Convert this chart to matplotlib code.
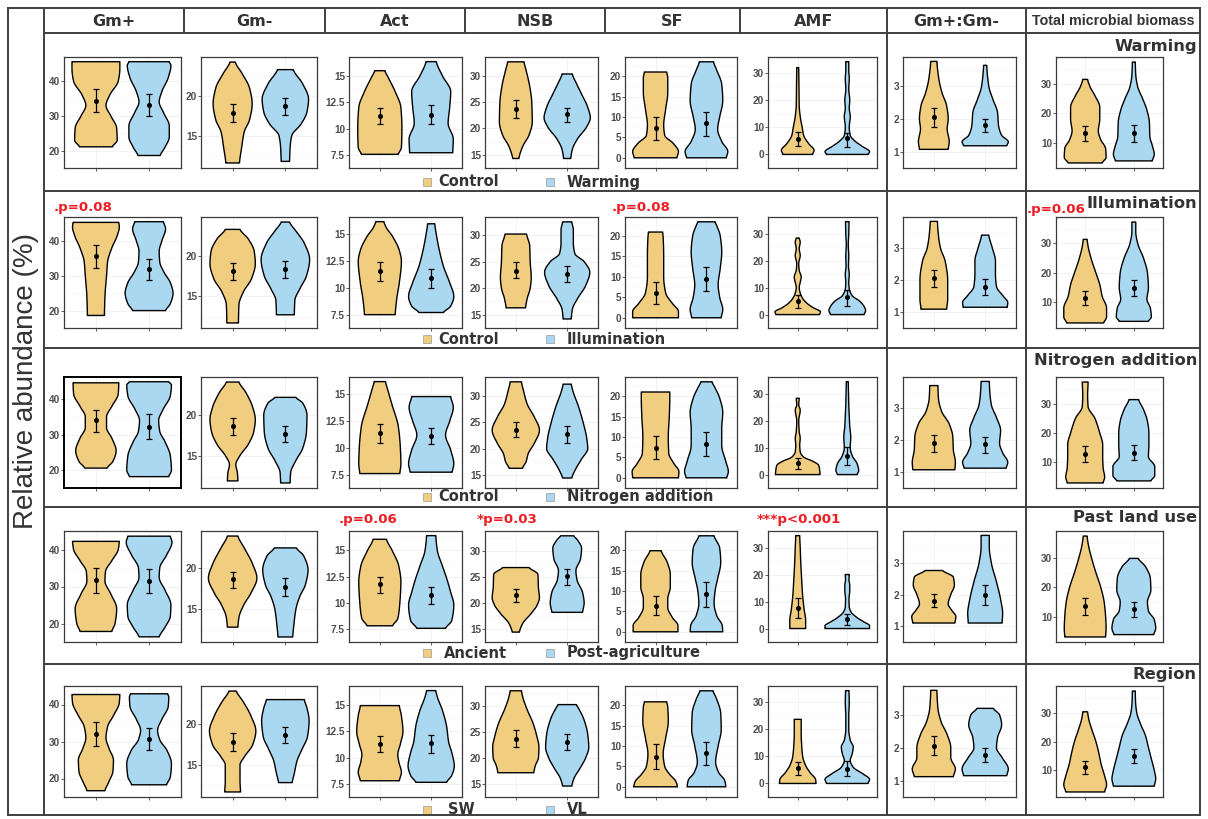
import numpy as np
import matplotlib
matplotlib.use("Agg")
import matplotlib.pyplot as plt
from matplotlib.lines import Line2D
from matplotlib.patches import Rectangle

plt.rcParams['font.family'] = ['DejaVu Sans']

W, H = 1208, 819

# ---------------- data ----------------
variables = ["Gm+", "Gm-", "Act", "NSB", "SF", "AMF", "Gm+:Gm-", "Total microbial biomass"]
factors = ["Warming", "Illumination", "Nitrogen addition", "Past land use", "Region"]
legend_labels = [("Control", "Warming"), ("Control", "Illumination"),
                 ("Control", "Nitrogen addition"), ("Ancient", "Post-agriculture"),
                 ("SW", "VL")]
tick_values = [[20, 30, 40], [15, 20], [7.5, 10, 12.5, 15], [15, 20, 25, 30],
               [0, 5, 10, 15, 20], [0, 10, 20, 30], [1, 2, 3], [10, 20, 30]]
tick_labels = [["20", "30", "40"], ["15", "20"], ["7.5", "10", "12.5", "15"],
               ["15", "20", "25", "30"], ["0", "5", "10", "15", "20"],
               ["0", "10", "20", "30"], ["1", "2", "3"], ["10", "20", "30"]]
# (row, column, text)
p_values = [(1, 0, ".p=0.08"), (1, 4, ".p=0.08"), (1, 7, ".p=0.06"),
            (3, 2, ".p=0.06"), (3, 3, "*p=0.03"), (3, 5, "***p<0.001")]

# violin outlines: (value, half width) pairs from data min to data max; (first group, second group)
warming_shape = [
    ([(21.1,.31),(23,.40),(26.5,.39),(30,.28),(33,.19),(36,.26),(40,.42),(43.5,.45),(45.6,.45)],
     [(18.6,.21),(21,.30),(24,.38),(27,.38),(31,.27),(34,.19),(37,.24),(41,.36),(44.5,.41),(45.6,.38)]),
    ([(11.6,.13),(13.5,.17),(15.5,.22),(17,.32),(19,.37),(21,.32),(22.8,.18),(24.25,.05)],
     [(11.8,.08),(13.5,.09),(15,.12),(16.5,.3),(18,.41),(19.6,.44),(21.5,.33),(23.3,.15)]),
    ([(7.55,.36),(8.2,.42),(10,.43),(12,.41),(13.5,.3),(14.8,.17),(15.5,.1)],
     [(7.7,.42),(9,.43),(10.5,.33),(12,.36),(13.5,.38),(15,.22),(16.36,.1)]),
    ([(14.3,.06),(16.5,.13),(18.8,.26),(21.2,.32),(25,.31),(28,.27),(31,.2),(32.6,.16)],
     [(14.3,.07),(16,.1),(18,.2),(20.3,.38),(22,.45),(24,.4),(26.5,.28),(28.5,.18),(30.3,.1)]),
    ([(0,.42),(1.5,.45),(3.5,.35),(5.5,.18),(8,.16),(12,.2),(16,.24),(19.5,.24),(21,.22)],
     [(0,.39),(1.5,.42),(4,.3),(7,.22),(10,.26),(14,.32),(18,.3),(21.5,.2),(23.5,.14)]),
    ([(0,.3),(1.5,.33),(4,.22),(7,.12),(10,.09),(14,.05),(18,.03),(25,.025),(32,.02)],
     [(0,.42),(1,.45),(3,.3),(5,.15),(7,.06),(10,.04),(14,.06),(17,.04),(20,.05),(24,.03),(28,.04),(31,.03),(34.2,.03)]),
    ([(1.07,.28),(1.3,.3),(1.7,.26),(2.0,.28),(2.4,.25),(2.8,.16),(3.2,.1),(3.76,.06)],
     [(1.18,.42),(1.3,.45),(1.5,.32),(1.8,.26),(2.2,.24),(2.6,.15),(3.0,.07),(3.64,.03)]),
    ([(3.1,.35),(5,.43),(8,.42),(11,.32),(14,.27),(18,.3),(22,.3),(26,.2),(29,.1),(31.5,.05)],
     [(3.8,.38),(6,.42),(9,.38),(12,.33),(17,.32),(21,.27),(25,.18),(29,.08),(33,.04),(37.4,.03)]),
]
warming_mean = [(34.4,33.1),(17.9,18.7),(11.17,11.3),(23.6,22.7),(7.2,8.5),(5.7,5.9),(2.05,1.8),(13.2,13.2)]
warming_lo = [(31.25,30),(16.7,17.6),(10.4,10.45),(21.9,21.3),(4.3,5.4),(3,2.6),(1.75,1.6),(10.5,10.3)]
warming_hi = [(37.6,36.25),(18.95,19.7),(11.95,12.2),(25.3,23.9),(9.9,11.3),(8.3,8),(2.33,2.0),(15.7,16)]

illumination_shape = [
    ([(18.6,.16),(24,.17),(30,.2),(34,.22),(38,.3),(41.5,.4),(44,.44),(45.3,.43)],
     [(20,.31),(22,.4),(25,.45),(28,.4),(31,.28),(34,.2),(37,.19),(40,.24),(43.5,.31),(45.5,.27)]),
    ([(11.75,.11),(14,.12),(15.5,.2),(17.2,.36),(19,.43),(20.5,.41),(22,.3),(23.2,.14)],
     [(12.75,.17),(14.5,.18),(16,.28),(17.5,.4),(19.5,.46),(21.5,.36),(23,.2),(24.1,.08)]),
    ([(7.5,.3),(9,.33),(10.5,.38),(12.5,.42),(13.5,.38),(14.8,.25),(15.7,.12),(16.2,.08)],
     [(7.7,.24),(8.3,.38),(9.2,.44),(10.5,.36),(12,.24),(13.5,.16),(15,.1),(16,.07)]),
    ([(16.3,.19),(18,.22),(20,.28),(22,.3),(25,.28),(28,.27),(30.2,.21)],
     [(14.2,.08),(16,.1),(18,.2),(20.5,.36),(23,.44),(25,.33),(26.5,.15),(28.5,.12),(31,.12),(32.5,.09)]),
    ([(0,.45),(1.5,.45),(3.5,.33),(6,.2),(10,.16),(15,.16),(19.5,.15),(20.9,.14)],
     [(0,.29),(2,.32),(5,.26),(8,.23),(12,.27),(16,.3),(20,.27),(22.5,.2),(23.4,.17)]),
    ([(0,.44),(1,.46),(2.5,.32),(4,.2),(6,.1),(8,.05),(10,.03),(12,.05),(14,.07),(16.5,.03),(19,.02),(22,.05),(24.5,.03),(27,.05),(28.5,.03)],
     [(0,.34),(1.5,.37),(3,.34),(5,.25),(7,.1),(9.5,.04),(12,.03),(15,.04),(18,.025),(22,.03),(26,.02),(30,.03),(34.6,.035)]),
    ([(1.09,.25),(1.4,.27),(2.0,.27),(2.6,.22),(3.0,.13),(3.4,.09),(3.84,.07)],
     [(1.15,.43),(1.3,.44),(1.5,.35),(1.8,.22),(2.2,.2),(2.6,.2),(3.0,.14),(3.41,.07)]),
    ([(2.95,.38),(5,.44),(8,.44),(12,.35),(16,.3),(20,.22),(25,.12),(29,.06),(31.4,.04)],
     [(3.5,.3),(5,.36),(8,.34),(11,.27),(15,.3),(20,.28),(25,.2),(30,.08),(34,.04),(37.3,.04)]),
]
illumination_mean = [(35.6,31.8),(18.05,18.4),(11.6,10.9),(23.3,22.7),(6.1,9.5),(4.9,6.4),(2.06,1.79),(11.3,14.8)]
illumination_lo = [(32.3,28.8),(16.95,17.3),(10.65,10.0),(22.0,21.2),(3.3,6.6),(2.3,3.2),(1.77,1.54),(9.0,12.0)]
illumination_hi = [(38.9,34.7),(19.1,19.3),(12.4,11.75),(25.0,24.2),(8.8,12.4),(7.2,9.3),(2.33,2.02),(13.9,17.5)]

nitrogen_shape = [
    ([(20.6,.21),(22.5,.32),(25.5,.38),(29,.3),(32,.2),(35,.2),(38,.3),(41.5,.42),(44.6,.43)],
     [(18.2,.37),(20,.42),(24,.4),(28,.3),(31,.2),(34,.18),(37,.26),(41,.4),(44,.42),(44.9,.37)]),
    ([(12.0,.1),(13.0,.09),(14.0,.06),(15,.13),(16.5,.3),(18,.4),(19.5,.43),(21,.38),(22.8,.25),(24.07,.12)],
     [(11.75,.09),(13,.1),(14.5,.2),(16,.33),(18,.4),(20,.41),(21.5,.33),(22.2,.2)]),
    ([(7.6,.39),(8.5,.41),(10,.4),(12,.36),(14,.24),(15.5,.15),(16.2,.11)],
     [(7.73,.41),(8.5,.44),(9.8,.38),(11.2,.28),(12.5,.36),(13.8,.43),(14.8,.38)]),
    ([(16.25,.13),(17.5,.2),(19,.24),(21,.36),(23.5,.46),(26,.36),(28.5,.22),(31,.15),(32.7,.11)],
     [(14.4,.09),(16,.16),(18,.28),(20,.4),(22,.38),(25,.31),(28,.22),(31,.11),(32.25,.08)]),
    ([(0,.45),(1.5,.46),(3.5,.36),(6,.26),(10,.25),(15,.27),(19.5,.28),(21,.28)],
     [(0,.4),(1.5,.43),(4,.38),(8,.3),(12,.3),(16,.32),(19.5,.26),(22,.17),(23.5,.11)]),
    ([(0,.45),(2,.44),(3.5,.42),(5,.3),(6.5,.12),(8.5,.05),(11,.04),(13.5,.05),(16,.03),(20,.02),(24,.05),(26,.02),(28.4,.03)],
     [(0,.2),(1.5,.23),(4,.2),(7,.1),(10,.06),(14,.07),(18,.05),(22,.04),(26,.03),(30,.025),(34.6,.02)]),
    ([(1.07,.41),(1.3,.42),(1.7,.38),(2.1,.37),(2.5,.3),(2.9,.15),(3.3,.09),(3.70,.08)],
     [(1.12,.41),(1.3,.44),(1.6,.34),(1.9,.28),(2.3,.3),(2.7,.22),(3.1,.12),(3.5,.09),(3.83,.08)]),
    ([(2.95,.37),(5,.4),(8,.37),(12,.36),(16,.36),(20,.3),(25,.2),(29,.06),(33,.05),(37.4,.06)],
     [(3.65,.35),(5.5,.43),(8.5,.43),(12,.3),(16,.31),(20,.31),(24,.28),(28,.2),(31.4,.1)]),
]
nitrogen_mean = [(34,32.3),(18.65,17.75),(11.4,11.1),(23.6,22.7),(7.4,8.2),(4.2,7.1),(1.9,1.88),(12.75,13.3)]
nitrogen_lo = [(30.8,28.8),(17.55,16.75),(10.5,10.35),(22.2,21),(4.5,5.3),(1.95,3.7),(1.63,1.6),(10.1,10.9)]
nitrogen_hi = [(36.9,35.8),(19.7,18.7),(12.2,11.9),(25.1,24.3),(10.2,11.1),(6.3,10.2),(2.15,2.1),(15.5,16)]

landuse_shape = [
    ([(17.85,.3),(20,.36),(24,.39),(28,.28),(31.5,.17),(34,.18),(37,.3),(40,.42),(42.2,.44)],
     [(16.4,.19),(19,.3),(22,.4),(25,.41),(29,.3),(32.5,.19),(35,.2),(38.5,.33),(42,.43),(43.6,.4)]),
    ([(12.8,.1),(14,.12),(15.5,.21),(17,.35),(18.8,.46),(20.5,.38),(22.5,.22),(23.95,.1)],
     [(11.6,.14),(13,.16),(15,.2),(16.5,.27),(18,.38),(19.8,.43),(21.5,.35),(22.5,.21)]),
    ([(7.8,.25),(8.5,.35),(10,.39),(12,.41),(13.5,.37),(15,.24),(16.07,.13)],
     [(7.56,.28),(8.3,.4),(9.8,.44),(11,.38),(12.2,.31),(13.5,.22),(15,.12),(16.42,.09)]),
    ([(14.4,.07),(16,.13),(18,.3),(19.7,.42),(21,.46),(23,.44),(25.5,.43),(26.8,.26)],
     [(18.2,.3),(20,.33),(22,.3),(24.5,.19),(26.2,.17),(28.5,.26),(30.5,.28),(32.1,.2),(32.9,.13)]),
    ([(0,.44),(1.5,.44),(3.5,.33),(6,.24),(8,.24),(11,.29),(14,.29),(17,.23),(19.85,.11)],
     [(0,.32),(1.5,.31),(4,.2),(7,.15),(10,.17),(13,.22),(17,.28),(20.5,.26),(23.5,.15)]),
    ([(0,.16),(3,.16),(7,.13),(12,.1),(18,.08),(25,.06),(30,.05),(34.4,.04)],
     [(0,.45),(1,.45),(2.5,.33),(4,.2),(6,.08),(8,.04),(11,.035),(14,.05),(16,.05),(18,.035),(20,.04)]),
    ([(1.1,.41),(1.3,.43),(1.5,.35),(1.7,.28),(2.0,.33),(2.3,.4),(2.55,.38),(2.76,.17)],
     [(1.1,.33),(1.4,.34),(1.85,.3),(2.4,.22),(3.0,.12),(3.5,.08),(3.87,.08)]),
    ([(3.1,.42),(6,.43),(10,.42),(15,.39),(20,.32),(25,.22),(30,.13),(34,.07),(37.4,.04)],
     [(3.9,.41),(6,.45),(9,.42),(12,.3),(15,.28),(19,.35),(23,.34),(27,.24),(29.8,.09)]),
]
landuse_mean = [(31.7,31.6),(18.65,17.7),(11.77,10.7),(21.47,25.1),(6.43,9.15),(7.6,3.45),(1.8,2.0),(13.7,12.6)]
landuse_lo = [(28.3,28.2),(17.6,16.6),(10.97,9.85),(20.25,23.5),(4.1,6.05),(4.0,1.3),(1.6,1.67),(10.6,10.0)]
landuse_hi = [(34.9,34.6),(19.6,18.8),(12.5,11.55),(22.7,26.6),(8.76,12.25),(11.3,5.2),(2.02,2.3),(16.5,15.1)]

region_shape = [
    ([(16.7,.17),(19,.24),(22,.32),(25,.33),(28,.25),(31,.19),(34,.22),(37,.33),(40.5,.44),(42.7,.45)],
     [(18.3,.33),(20.5,.4),(24,.42),(27.5,.34),(30.5,.2),(33,.16),(36,.24),(39.5,.36),(42,.37),(42.9,.35)]),
    ([(11.7,.15),(13,.14),(15,.14),(16,.22),(17.5,.38),(19.2,.44),(21,.35),(22.8,.2),(24.1,.07)],
     [(12.85,.13),(14,.17),(15.5,.22),(17,.32),(18.5,.42),(20.5,.45),(22,.41),(23.05,.36)]),
    ([(7.8,.38),(8.6,.42),(9.6,.37),(10.3,.35),(11.3,.4),(12.5,.45),(14,.42),(14.97,.38)],
     [(7.65,.3),(8.3,.4),(9.2,.45),(10.5,.4),(11.5,.34),(13,.3),(14.5,.22),(15.8,.12),(16.4,.09)]),
    ([(17.15,.35),(18.5,.38),(20,.44),(22,.45),(24.5,.4),(26.5,.34),(29.5,.21),(31.5,.14),(32.85,.11)],
     [(14.6,.09),(16,.13),(18,.25),(20,.36),(22,.42),(24.5,.4),(27.5,.32),(29.5,.22),(30.2,.18)]),
    ([(0,.43),(1.3,.4),(3,.28),(5,.18),(8,.15),(12,.2),(16,.25),(19.5,.24),(20.8,.22)],
     [(0,.38),(1.5,.36),(3.5,.24),(6,.18),(10,.23),(14,.29),(18,.28),(21.5,.2),(23.5,.13)]),
    ([(0,.37),(1.5,.36),(4,.25),(7,.15),(10,.1),(14,.08),(18,.07),(22,.07),(23.7,.07)],
     [(0,.42),(1.5,.45),(3.5,.32),(6,.12),(8.5,.06),(11,.1),(13.5,.12),(16,.06),(20,.03),(25,.03),(30,.04),(34.3,.035)]),
    ([(1.12,.38),(1.35,.42),(1.7,.33),(2.0,.33),(2.4,.26),(2.8,.14),(3.2,.08),(3.75,.06)],
     [(1.15,.42),(1.35,.45),(1.7,.33),(2.0,.22),(2.3,.24),(2.7,.32),(3.0,.28),(3.2,.16)]),
    ([(2.5,.4),(5,.44),(8,.4),(12,.33),(16,.28),(20,.22),(24,.14),(28,.07),(30.3,.05)],
     [(4.5,.42),(7,.45),(10,.42),(14,.36),(18,.3),(22,.24),(26,.14),(30,.06),(34,.035),(37.5,.03)]),
]
region_mean = [(32,30.6),(17.9,18.7),(11.34,11.4),(23.7,23.0),(7.4,8.2),(5.6,5.4),(2.05,1.78),(11,15)]
region_lo = [(28.7,27.6),(16.7,17.7),(10.5,10.45),(22.1,21.5),(4.45,5.4),(3.1,2.8),(1.78,1.58),(8.6,12.5)]
region_hi = [(35.2,33.6),(19.0,19.7),(12.1,12.2),(25.3,24.5),(10.45,10.9),(8.1,8.2),(2.35,2.0),(13.3,17.5)]

row_shapes = [warming_shape, illumination_shape, nitrogen_shape, landuse_shape, region_shape]
row_means = [warming_mean, illumination_mean, nitrogen_mean, landuse_mean, region_mean]
row_lo = [warming_lo, illumination_lo, nitrogen_lo, landuse_lo, region_lo]
row_hi = [warming_hi, illumination_hi, nitrogen_hi, landuse_hi, region_hi]

# ---------------- style / layout ----------------
ORANGE = '#F1CD80'
BLUE = '#ABD8F1'
LINE = '#3F3F3F'
TXT = '#333333'
RED = '#EE1D24'

col_x = [(64, 181), (201, 317), (349, 462), (485, 598), (625, 737), (768, 877), (903, 1016), (1056, 1163)]
row_y = [(57, 168), (217, 328), (377, 488), (531, 642), (686, 797)]
header_x = [44, 184, 325, 465, 605, 740, 887, 1026, 1200]
row_div = [8, 33, 191, 348, 507, 664, 815]
legend_y = [182, 339, 497, 653, 810]
legend_tx = [438, 438, 438, 444, 448]
pval_xy = {(1, 0): (54, 208), (1, 4): (612, 208), (1, 7): (1027, 210),
           (3, 2): (339, 519), (3, 3): (477, 519), (3, 5): (757, 519)}
factor_y = [47, 203, 361, 518, 675]


def fx(x):
    return x / W


def fy(y):
    return 1 - y / H


def pchip_eval(xk, yk, xn):
    xk = np.asarray(xk, float)
    yk = np.asarray(yk, float)
    n = len(xk)
    h = np.diff(xk)
    d = np.diff(yk) / h
    m = np.zeros(n)
    for k in range(1, n - 1):
        if d[k - 1] * d[k] > 0:
            w1 = 2 * h[k] + h[k - 1]
            w2 = h[k] + 2 * h[k - 1]
            m[k] = (w1 + w2) / (w1 / d[k - 1] + w2 / d[k])
    m[0] = d[0] * 0.5
    m[-1] = d[-1] * 0.5
    idx = np.clip(np.searchsorted(xk, xn, side='right') - 1, 0, n - 2)
    t = (xn - xk[idx]) / h[idx]
    hh = h[idx]
    t2 = t * t
    t3 = t2 * t
    return ((2 * t3 - 3 * t2 + 1) * yk[idx] + (t3 - 2 * t2 + t) * hh * m[idx]
            + (-2 * t3 + 3 * t2) * yk[idx + 1] + (t3 - t2) * hh * m[idx + 1])


def draw_violin(ax, xc, knots, color):
    ys = [k[0] for k in knots]
    ws = [k[1] for k in knots]
    yy = np.linspace(ys[0], ys[-1], 400)
    ww = np.clip(pchip_eval(ys, ws, yy), 0.006, None)
    px = np.concatenate([xc - ww, (xc + ww)[::-1]])
    py = np.concatenate([yy, yy[::-1]])
    ax.fill(px, py, facecolor=color, edgecolor='black', lw=1.0,
            joinstyle='round', zorder=2)


fig = plt.figure(figsize=(W / 100, H / 100), dpi=100)
fig.patch.set_facecolor('white')


def hline(x0, x1, y, lw=1.4):
    fig.add_artist(Line2D([fx(x0), fx(x1)], [fy(y), fy(y)], color=LINE, lw=lw,
                          transform=fig.transFigure, solid_capstyle='projecting'))


def vline(x, y0, y1, lw=1.4):
    fig.add_artist(Line2D([fx(x), fx(x)], [fy(y0), fy(y1)], color=LINE, lw=lw,
                          transform=fig.transFigure, solid_capstyle='projecting'))


# table frame
hline(8, 1200, 8)
hline(8, 1200, 815)
vline(8, 8, 815)
vline(1200, 8, 815)
vline(44, 8, 815)
for yv in row_div[1:-1]:
    hline(44, 1200, yv)
for xv in header_x[1:-1]:
    if xv in (887, 1026):
        vline(xv, 8, 815)
    else:
        vline(xv, 8, 33)

# headers
for c, name in enumerate(variables):
    xm = (header_x[c] + header_x[c + 1]) / 2
    if c == 7:
        fig.text(fx(xm), fy(21), name, ha='center', va='center', fontsize=10.3,
                 fontweight='bold', color=TXT, family=['Liberation Sans', 'DejaVu Sans'])
    else:
        fig.text(fx(xm), fy(21), name, ha='center', va='center', fontsize=11.5,
                 fontweight='bold', color=TXT)

# y label
fig.text(fx(26), fy(381), "Relative abundance (%)", rotation=90, ha='center', va='center',
         fontsize=20, color=TXT, family=['Liberation Sans', 'DejaVu Sans'])

# panels
for r in range(5):
    for c in range(8):
        x0, x1 = col_x[c]
        y0, y1 = row_y[r]
        ax = fig.add_axes([fx(x0), fy(y1), (x1 - x0) / W, (y1 - y0) / H])
        shp = row_shapes[r][c]
        mns = row_means[r][c]
        los = row_lo[r][c]
        his = row_hi[r][c]
        allv = [k[0] for k in shp[0]] + [k[0] for k in shp[1]] + list(los) + list(his)
        vmin, vmax = min(allv), max(allv)
        rng = vmax - vmin
        ax.set_xlim(0.4, 2.6)
        ax.set_ylim(vmin - 0.05 * rng, vmax + 0.05 * rng)
        tv = tick_values[c]
        ax.set_yticks(tv)
        ax.set_yticklabels(tick_labels[c], fontsize=7.2, fontweight='bold', color='#4D4D4D',
                           family=['Liberation Sans', 'DejaVu Sans'])
        step = tv[1] - tv[0]
        minor = [tv[0] - step / 2] + [t + step / 2 for t in tv]
        ax.set_yticks(minor, minor=True)
        ax.set_xticks([1, 2])
        ax.set_xticklabels([])
        ax.tick_params(axis='both', which='major', length=2, width=0.6, color='#444444', pad=0.8)
        ax.tick_params(axis='both', which='minor', length=0)
        ax.grid(True, which='major', color='#EDEDED', lw=0.5, zorder=0)
        ax.grid(True, which='minor', axis='y', color='#F5F5F5', lw=0.4, zorder=0)
        ax.set_axisbelow(True)
        for sp in ax.spines.values():
            sp.set_color('#3A3A3A')
            sp.set_linewidth(0.9)
        if r == 2 and c == 0:
            for sp in ax.spines.values():
                sp.set_color('black')
                sp.set_linewidth(1.4)
        for g, (xc, col) in enumerate([(1, ORANGE), (2, BLUE)]):
            draw_violin(ax, xc, shp[g], col)
            m = mns[g]
            ax.errorbar([xc], [m], yerr=[[m - los[g]], [his[g] - m]], fmt='o', color='black',
                        ms=2.6, capsize=2.0, elinewidth=0.9, capthick=0.9, zorder=4)

# legends
for r in range(5):
    ly = legend_y[r]
    a, b = legend_labels[r]
    for sx, tx, lab, col in [(427, legend_tx[r], a, ORANGE), (550, 567, b, BLUE)]:
        fig.add_artist(Rectangle((fx(sx - 4), fy(ly + 4)), 8 / W, 8 / H, transform=fig.transFigure,
                                 facecolor=col, edgecolor='#9A9A9A', lw=0.5))
        fig.text(fx(tx), fy(ly), lab, ha='left', va='center', fontsize=10.5,
                 fontweight='bold', color=TXT)

# factor labels
for r, name in enumerate(factors):
    fig.text(fx(1197), fy(factor_y[r]), name, ha='right', va='center', fontsize=11.8,
             fontweight='bold', color=TXT)

# p-values
for r, c, txt in p_values:
    px, py = pval_xy[(r, c)]
    fig.text(fx(px), fy(py), txt, ha='left', va='center', fontsize=9.6,
             fontweight='bold', color=RED)

fig.savefig("out.png", dpi=100, facecolor='white')
